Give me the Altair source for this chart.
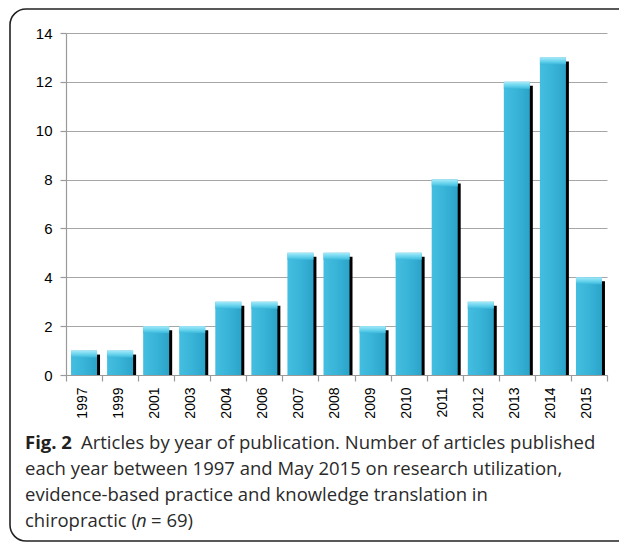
import altair as alt
import pandas as pd

years = ["1997", "1999", "2001", "2003", "2004", "2006", "2007", "2008",
         "2009", "2010", "2011", "2012", "2013", "2014", "2015"]
counts = [1, 1, 2, 2, 3, 3, 5, 5, 2, 5, 8, 3, 12, 13, 4]

caption_bold = "Fig. 2"
caption_lines = [
    "Articles by year of publication. Number of articles published",
    "each year between 1997 and May 2015 on research utilization,",
    "evidence-based practice and knowledge translation in",
]

df = pd.DataFrame({"year": years, "count": counts})

x_enc = alt.X("year:N", sort=years, title=None,
              scale=alt.Scale(paddingInner=0, paddingOuter=0),
              axis=alt.Axis(labelAngle=-90, labelAlign="right", labelBaseline="middle",
                            labelFont="Liberation Sans", labelFontSize=14, labelColor="#000",
                            labelPadding=6, tickBand="extent", tickSize=6,
                            tickColor="#9a9a9a", domainColor="#9a9a9a", labelOffset=-2))
y_enc = alt.Y("count:Q", title=None,
              scale=alt.Scale(domain=[0, 14], nice=False),
              axis=alt.Axis(values=[0, 2, 4, 6, 8, 10, 12, 14], grid=True,
                            gridColor="#a6a6a6", gridWidth=1.2,
                            labelFont="Liberation Sans", labelFontSize=15, labelColor="#000",
                            labelPadding=8, tickSize=6, tickColor="#9a9a9a",
                            domainColor="#9a9a9a"))

base = alt.Chart(df)

shadow = base.mark_bar(color="#000000", size=26, xOffset=3, yOffset=4).encode(
    x=x_enc, y=y_enc, y2=alt.datum(0))

main_fill = alt.Gradient(
    gradient="linear", x1=0, x2=1, y1=0, y2=0,
    stops=[alt.GradientStop(color="#44BEE0", offset=0),
           alt.GradientStop(color="#38B4D8", offset=0.5),
           alt.GradientStop(color="#2CA3C9", offset=1)])
main = base.mark_bar(size=26, fill=main_fill).encode(
    x=x_enc, y=y_enc, y2=alt.datum(0))

bevel_fill = alt.Gradient(
    gradient="linear", x1=0, x2=0, y1=0, y2=1,
    stops=[alt.GradientStop(color="#A5EAF9", offset=0),
           alt.GradientStop(color="#62D1EC", offset=0.6),
           alt.GradientStop(color="#3CB7DA", offset=1)])
bevel = base.mark_bar(size=26, fill=bevel_fill, y2Offset=7).encode(
    x=x_enc, y=y_enc, y2=alt.Y2("count:Q"))

one = alt.Data(values=[{"k": 1}])
frame = alt.Chart(one).mark_rect(fillOpacity=0, stroke="#222", strokeWidth=1.6,
                                 cornerRadius=16).encode(
    x=alt.value(-56), x2=alt.value(580), y=alt.value(-24), y2=alt.value(508))

FS = 18.5
TX = -41
TEXT_COLOR = "#2a2a2a"
cap_bold = alt.Chart(one).mark_text(
    text=caption_bold, font="Open Sans", fontSize=FS, fontWeight="bold",
    align="left", baseline="alphabetic", color="#231F20").encode(
    x=alt.value(TX), y=alt.value(416))

cap_layers = []
cap_pos = [(15, 416), (TX, 442), (TX, 468)]
for txt, (cx, cy) in zip(caption_lines, cap_pos):
    cap_layers.append(alt.Chart(one).mark_text(
        text=txt, font="Open Sans", fontSize=FS, align="left",
        baseline="alphabetic", color=TEXT_COLOR).encode(
        x=alt.value(cx), y=alt.value(cy)))

last_a = alt.Chart(one).mark_text(
    text="chiropractic (", font="Open Sans", fontSize=FS, align="left",
    baseline="alphabetic", color=TEXT_COLOR).encode(x=alt.value(TX), y=alt.value(494))
last_b = alt.Chart(one).mark_text(
    text="n", font="Open Sans", fontSize=FS, fontStyle="italic", align="left",
    baseline="alphabetic", color=TEXT_COLOR).encode(x=alt.value(70), y=alt.value(494))
last_c = alt.Chart(one).mark_text(
    text="= 69)", font="Open Sans", fontSize=FS, align="left",
    baseline="alphabetic", color=TEXT_COLOR).encode(x=alt.value(85), y=alt.value(494))

chart = alt.layer(shadow, main, bevel, frame, cap_bold, *cap_layers, last_a, last_b, last_c).properties(
    width=541, height=342,
    autosize=alt.AutoSizeParams(type="none"),
    padding={"left": 58, "top": 25, "right": 12, "bottom": 167},
).configure_view(stroke=None).configure_axis(domainWidth=1.2, tickWidth=1.2)

chart.save("out.html", embed_options={"renderer": "svg", "actions": False})
